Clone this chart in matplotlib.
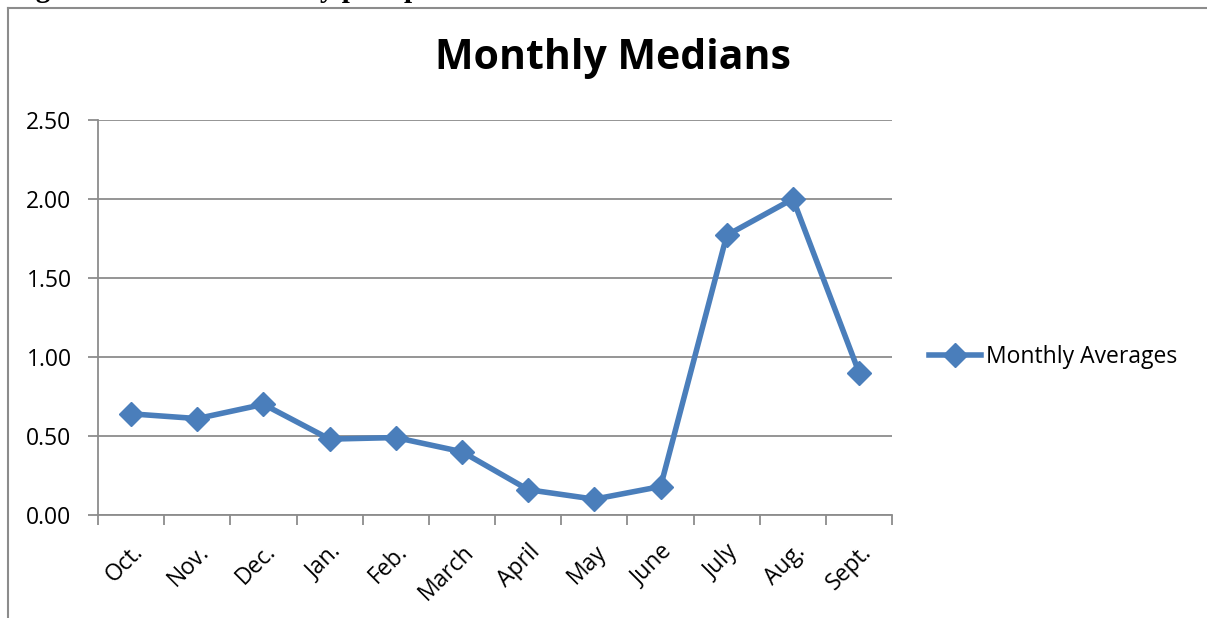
import numpy as np
import matplotlib
matplotlib.use("Agg")
import matplotlib.pyplot as plt
from matplotlib.lines import Line2D

# ---- data ----
months = ["Oct.", "Nov.", "Dec.", "Jan.", "Feb.", "March",
          "April", "May", "June", "July", "Aug.", "Sept."]
monthly_avg = [0.64, 0.61, 0.70, 0.48, 0.49, 0.40,
               0.16, 0.10, 0.18, 1.77, 2.00, 0.90]
y_ticks = [0.0, 0.5, 1.0, 1.5, 2.0, 2.5]

LINE_COLOR = "#4A7EBB"
GRID_COLOR = "#8C8C8C"
FONT = "Open Sans"
TICK_SIZE = 16.5

fig = plt.figure(figsize=(12.07, 6.18), dpi=100)
ax = fig.add_axes([0.0812, 0.1667, 0.658, 0.6393])

x = np.arange(len(months)) + 0.5
ax.plot(x, monthly_avg, color=LINE_COLOR, linewidth=4,
        marker="D", markersize=12, label="Monthly Averages", zorder=3)

ax.set_xlim(0, len(months))
ax.set_ylim(0, 2.5)
ax.set_yticks(y_ticks)
ax.set_yticklabels([f"{v:.2f}" for v in y_ticks], fontsize=TICK_SIZE, family=FONT)
ax.yaxis.grid(True, color=GRID_COLOR, linewidth=1.3)
ax.set_axisbelow(True)

# category boundaries get the tick marks, labels sit at the centres
ax.set_xticks(np.arange(len(months) + 1))
ax.set_xticklabels([])
ax.set_xticks(x, minor=True)
ax.set_xticklabels(months, minor=True, rotation=45, ha="right",
                   rotation_mode="anchor", fontsize=TICK_SIZE, family=FONT)
ax.tick_params(axis="x", which="major", length=7, width=1.3, color=GRID_COLOR)
ax.tick_params(axis="x", which="minor", length=0, pad=18)
ax.tick_params(axis="y", length=7, width=1.3, color=GRID_COLOR, pad=12)

for side in ["top", "right"]:
    ax.spines[side].set_visible(False)
for side in ["left", "bottom"]:
    ax.spines[side].set_color(GRID_COLOR)
    ax.spines[side].set_linewidth(1.3)

fig.text(0.508, 0.906, "Monthly Medians", ha="center", va="center",
         fontsize=29.5, fontweight="bold", family=FONT)

ax.legend(loc="center left", bbox_to_anchor=(1.02, 0.4), frameon=False,
          prop={"family": FONT, "size": TICK_SIZE}, handlelength=2.3,
          handletextpad=0.2)

# outer chart frame (page crop)
fig.add_artist(Line2D([8 / 1207, 8 / 1207], [0, 1 - 8 / 618],
                      transform=fig.transFigure, color=GRID_COLOR, linewidth=1.5))
fig.add_artist(Line2D([8 / 1207, 1], [1 - 8 / 618, 1 - 8 / 618],
                      transform=fig.transFigure, color=GRID_COLOR, linewidth=1.5))

# caption of the page, mostly above the crop as in the source
fig.text(0.008, 1.005, "Figure 4.1: Mean monthly precipitation",
         ha="left", va="baseline", fontsize=21, fontweight="bold",
         family="Liberation Serif")

fig.savefig("out.png", dpi=100)
